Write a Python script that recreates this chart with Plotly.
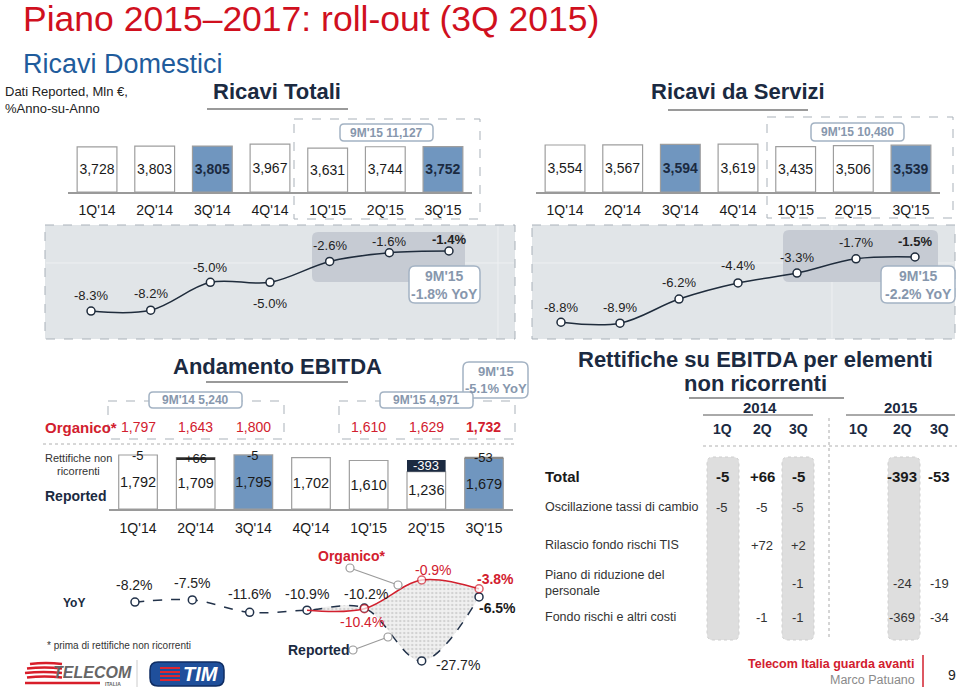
import plotly.graph_objects as go

# ---------------- DATA ----------------
quarters = ["1Q'14", "2Q'14", "3Q'14", "4Q'14", "1Q'15", "2Q'15", "3Q'15"]
ricavi_totali = [3728, 3803, 3805, 3967, 3631, 3744, 3752]
ricavi_servizi = [3554, 3567, 3594, 3619, 3435, 3506, 3539]
yoy_totali = [-8.3, -8.2, -5.0, -5.0, -2.6, -1.6, -1.4]
yoy_servizi = [-8.8, -8.9, -6.2, -4.4, -3.3, -1.7, -1.5]
ebitda_reported = [1792, 1709, 1795, 1702, 1610, 1236, 1679]
ebitda_organico = [1797, 1643, 1800, None, 1610, 1629, 1732]
rettifiche_labels = ["-5", "+66", "-5", None, None, "-393", "-53"]
yoy_ebitda_reported = [-8.2, -7.5, -11.6, -10.9, -10.2, -27.7, -6.5]
yoy_ebitda_organico = [None, None, None, -10.9, -10.4, -0.9, -3.8]
highlight = [False, False, True, False, False, False, True]

tot_9m = "9M'15 11,127"
serv_9m = "9M'15 10,480"
tot_yoy_9m = "9M'15<br>-1.8% YoY"
serv_yoy_9m = "9M'15<br>-2.2% YoY"
ebitda_9m14 = "9M'14 5,240"
ebitda_9m15 = "9M'15 4,971"
ebitda_yoy_9m = "9M'15<br>-5.1% YoY"

table_years = ["2014", "2015"]
table_cols = ["1Q", "2Q", "3Q", "1Q", "2Q", "3Q"]
table_rows = ["Total", "Oscillazione tassi di cambio", "Rilascio fondo rischi TIS",
              "Piano di riduzione del<br>personale", "Fondo rischi e altri costi"]
table_values = [
    ["-5", "+66", "-5", "", "-393", "-53"],
    ["-5", "-5", "-5", "", "", ""],
    ["", "+72", "+2", "", "", ""],
    ["", "", "-1", "", "-24", "-19"],
    ["", "-1", "-1", "", "-369", "-34"],
]

# ---------------- STYLE ----------------
W, H = 960, 687
FONT = "Liberation Sans, Arial, sans-serif"
NAVY = "#1b2a41"
RED = "#d2202e"
TITLE_RED = "#d0101e"
BLUE_BAR = "#7096bf"
BAR_EDGE = "#9e9e9e"
PANEL = "#e1e5e8"
PANEL_DARK = "#c6cbd3"
BOX_TXT = "#8797ad"
BOX_EDGE = "#a3b2c3"
DASH = "#a9b1b9"


def X(v):
    return v / W


def Y(v):
    return 1 - v / H


annotations = []
shapes = []


def txt(x, y, s, size=13, color="#222", bold=False, xa="center", ya="middle", italic=False):
    if bold:
        s = "<b>" + s + "</b>"
    if italic:
        s = "<i>" + s + "</i>"
    annotations.append(dict(x=X(x), y=Y(y), xref="paper", yref="paper", text=s, showarrow=False,
                            font=dict(size=size, color=color, family=FONT), xanchor=xa, yanchor=ya,
                            align=xa if xa in ("left", "right") else "center"))


def line(x0, y0, x1, y1, color="#999", width=1, dash=None, layer="above"):
    d = dict(type="line", xref="paper", yref="paper", x0=X(x0), y0=Y(y0), x1=X(x1), y1=Y(y1),
             line=dict(color=color, width=width), layer=layer)
    if dash:
        d["line"]["dash"] = dash
    shapes.append(d)


def rect(x0, y0, x1, y1, fill="rgba(0,0,0,0)", edge="rgba(0,0,0,0)", width=1, dash=None, layer="below"):
    d = dict(type="rect", xref="paper", yref="paper", x0=X(x0), y0=Y(y0), x1=X(x1), y1=Y(y1),
             fillcolor=fill, line=dict(color=edge, width=width), layer=layer)
    if dash:
        d["line"]["dash"] = dash
    shapes.append(d)


def rrect(x0, y0, x1, y1, r, fill="white", edge=BOX_EDGE, width=1.5, dash=None, layer="above"):
    p = (f"M {X(x0 + r)},{Y(y0)} L {X(x1 - r)},{Y(y0)} Q {X(x1)},{Y(y0)} {X(x1)},{Y(y0 + r)} "
         f"L {X(x1)},{Y(y1 - r)} Q {X(x1)},{Y(y1)} {X(x1 - r)},{Y(y1)} "
         f"L {X(x0 + r)},{Y(y1)} Q {X(x0)},{Y(y1)} {X(x0)},{Y(y1 - r)} "
         f"L {X(x0)},{Y(y0 + r)} Q {X(x0)},{Y(y0)} {X(x0 + r)},{Y(y0)} Z")
    d = dict(type="path", xref="paper", yref="paper", path=p, fillcolor=fill,
             line=dict(color=edge, width=width), layer=layer)
    if dash:
        d["line"]["dash"] = dash
    shapes.append(d)


def circle(cx, cy, r, edge="#9a9a9a", fill="white"):
    shapes.append(dict(type="circle", xref="paper", yref="paper", x0=X(cx - r), y0=Y(cy - r),
                       x1=X(cx + r), y1=Y(cy + r), fillcolor=fill, line=dict(color=edge, width=1.2),
                       layer="above"))


fig = go.Figure()

# ---------------- Ricavi bars ----------------
def add_bars(values, xa, ya):
    colors = [BLUE_BAR if h else "white" for h in highlight]
    texts = [("<b>%s</b>" % f"{v:,}") if h else f"{v:,}" for v, h in zip(values, highlight)]
    tcols = [NAVY if h else "#1a1a1a" for h in highlight]
    fig.add_trace(go.Bar(x=quarters, y=values, xaxis=xa, yaxis=ya, width=0.69,
                         marker=dict(color=colors, line=dict(color=BAR_EDGE, width=1.2)),
                         text=texts, textposition="inside", insidetextanchor="middle",
                         textangle=0, constraintext="none", cliponaxis=False,
                         textfont=dict(size=14, color=tcols, family=FONT), hoverinfo="skip"))


add_bars(ricavi_totali, "x", "y")
add_bars(ricavi_servizi, "x2", "y2")

# ---------------- Ricavi YoY lines ----------------
def add_yoy(values, xa, ya):
    fig.add_trace(go.Scatter(x=quarters, y=values, xaxis=xa, yaxis=ya, mode="lines+markers",
                             line=dict(color="#1f2c3c", width=1.5, shape="spline"),
                             marker=dict(size=8, color="white", line=dict(color="#1f2c3c", width=1.5)),
                             cliponaxis=False, hoverinfo="skip"))


add_yoy(yoy_totali, "x3", "y3")
add_yoy(yoy_servizi, "x4", "y4")

tot_dy = [16, 17, 15, -21, 16, 11, 12]
serv_dy = [15, 16, 17, 17, 16, 16, 16]
for i, (q, v) in enumerate(zip(quarters, yoy_totali)):
    s = f"{v:.1f}%"
    if i == 6:
        s = "<b>" + s + "</b>"
    annotations.append(dict(x=q, y=v, xref="x3", yref="y3", text=s, showarrow=False, yshift=tot_dy[i],
                            font=dict(size=13, color="#222", family=FONT)))
for i, (q, v) in enumerate(zip(quarters, yoy_servizi)):
    s = f"{v:.1f}%"
    if i == 6:
        s = "<b>" + s + "</b>"
    annotations.append(dict(x=q, y=v, xref="x4", yref="y4", text=s, showarrow=False, yshift=serv_dy[i],
                            font=dict(size=13, color="#222", family=FONT)))

# ---------------- EBITDA bars ----------------
e_colors = [BLUE_BAR if h else "white" for h in highlight]
fig.add_trace(go.Bar(x=quarters, y=ebitda_reported, xaxis="x5", yaxis="y5", width=0.67,
                     marker=dict(color=e_colors, line=dict(color=BAR_EDGE, width=1.2)),
                     text=[f"{v:,}" for v in ebitda_reported], textposition="inside",
                     insidetextanchor="middle", textangle=0, constraintext="none", cliponaxis=False,
                     textfont=dict(size=14.5, color="#1a1a1a", family=FONT), hoverinfo="skip"))

ret_base, ret_h, ret_col = [], [], []
for rep, org, lab in zip(ebitda_reported, ebitda_organico, rettifiche_labels):
    if org is None or lab is None:
        ret_base.append(0)
        ret_h.append(0)
        ret_col.append("rgba(0,0,0,0)")
        continue
    ret_base.append(min(rep, org))
    ret_h.append(abs(org - rep))
    if lab == "+66":
        ret_col.append("#2b2b2b")
    elif lab == "-393":
        ret_col.append(NAVY)
    elif lab == "-53":
        ret_col.append("#8a8a8a")
    else:
        ret_col.append("rgba(0,0,0,0)")
fig.add_trace(go.Bar(x=quarters, y=ret_h, base=ret_base, xaxis="x5", yaxis="y5", width=0.67,
                     marker=dict(color=ret_col, line=dict(width=0)), hoverinfo="skip", cliponaxis=False))

for q, rep, org, lab in zip(quarters, ebitda_reported, ebitda_organico, rettifiche_labels):
    if lab is None:
        continue
    if lab == "-393":
        annotations.append(dict(x=q, y=(rep + org) / 2, xref="x5", yref="y5", text=lab, showarrow=False,
                                font=dict(size=13, color="white", family=FONT)))
    else:
        annotations.append(dict(x=q, y=max(rep, org), xref="x5", yref="y5", text=lab, showarrow=False,
                                yshift=-1, font=dict(size=13, color="#1a1a1a", family=FONT)))

# organic row
for i, (q, v) in enumerate(zip(quarters, ebitda_organico)):
    if v is None:
        continue
    s = f"{v:,}"
    if i == 6:
        s = "<b>" + s + "</b>"
    annotations.append(dict(x=q, y=Y(427), xref="x5", yref="paper", text=s, showarrow=False,
                            font=dict(size=14, color=RED, family=FONT)))

# ---------------- EBITDA YoY ----------------
fig.add_trace(go.Scatter(x=quarters[3:], y=yoy_ebitda_reported[3:], xaxis="x6", yaxis="y6",
                         mode="lines", line=dict(width=0, shape="spline", color="rgba(0,0,0,0)"),
                         hoverinfo="skip"))
fig.add_trace(go.Scatter(x=quarters[3:], y=yoy_ebitda_organico[3:], xaxis="x6", yaxis="y6",
                         mode="lines", line=dict(width=0, shape="spline", color="rgba(0,0,0,0)"),
                         fill="tonexty", fillcolor="rgba(220,220,220,0.5)",
                         fillpattern=dict(shape=".", fgcolor="#b4b4b4", bgcolor="#f0f0f0", size=4,
                                          solidity=0.3),
                         hoverinfo="skip"))
fig.add_trace(go.Scatter(x=quarters, y=yoy_ebitda_reported, xaxis="x6", yaxis="y6", mode="lines+markers",
                         line=dict(color="#22324a", width=1.5, dash="dash", shape="spline"),
                         marker=dict(size=8, color="white", line=dict(color="#22324a", width=1.5)),
                         cliponaxis=False, hoverinfo="skip"))
fig.add_trace(go.Scatter(x=quarters[3:], y=yoy_ebitda_organico[3:], xaxis="x6", yaxis="y6",
                         mode="lines+markers",
                         line=dict(color=RED, width=1.5, shape="spline"),
                         marker=dict(size=[0, 8, 8, 8], color="white", line=dict(color=RED, width=1.5)),
                         cliponaxis=False, hoverinfo="skip"))

e_lab = [
    (yoy_ebitda_reported, 0, 0, 17, "#222", False),
    (yoy_ebitda_reported, 1, 0, 17, "#222", False),
    (yoy_ebitda_reported, 2, 0, 18, "#222", False),
    (yoy_ebitda_reported, 3, 0, 16, "#222", False),
    (yoy_ebitda_reported, 4, 2, 14, "#222", False),
    (yoy_ebitda_organico, 4, -2, -13, RED, False),
    (yoy_ebitda_organico, 5, 12, 10, RED, False),
    (yoy_ebitda_organico, 6, 16, 10, RED, True),
    (yoy_ebitda_reported, 6, 18, -11, "#1a1a1a", True),
    (yoy_ebitda_reported, 5, 36, -4, "#222", False),
]
for ser, i, dx, dy, col, b in e_lab:
    s = f"{ser[i]:.1f}%"
    if b:
        s = "<b>" + s + "</b>"
    annotations.append(dict(x=quarters[i], y=ser[i], xref="x6", yref="y6", text=s, showarrow=False,
                            xshift=dx, yshift=dy, font=dict(size=14, color=col, family=FONT)))

# ---------------- Axes ----------------
cat_range = [-0.5, 6.5]


def xcat(d0, d1, anchor, show=True, tl=4):
    ax = dict(domain=[X(d0), X(d1)], range=cat_range, anchor=anchor, type="category",
              categoryorder="array", categoryarray=quarters, fixedrange=True, showgrid=False,
              zeroline=False)
    if show:
        ax.update(showline=True, linecolor="#9a9a9a", linewidth=1.5, ticks="outside", ticklen=tl,
                  tickcolor="rgba(0,0,0,0)", tickfont=dict(size=14, color="#1a1a1a", family=FONT))
    else:
        ax.update(visible=False)
    return ax


def yax(p_bottom, p_top, rng, anchor):
    return dict(domain=[Y(p_bottom), Y(p_top)], range=rng, anchor=anchor, visible=False,
                fixedrange=True, showgrid=False, zeroline=False)


def lin_range(v_ref, p_ref, ppu, p_bottom, p_top):
    return [v_ref - (p_bottom - p_ref) / ppu, v_ref + (p_ref - p_top) / ppu]


layout_axes = dict(
    xaxis=xcat(68.2, 471.8, "y", tl=4),
    yaxis=yax(192, 120, [0, 5960], "x"),
    xaxis2=xcat(536.2, 939.8, "y2", tl=4),
    yaxis2=yax(192, 120, [0, 5443], "x2"),
    xaxis3=xcat(61.2, 478.8, "y3", show=False),
    yaxis3=yax(339, 225, lin_range(-1.4, 251, 8.7, 339, 225), "x3"),
    xaxis4=xcat(531.5, 944.5, "y4", show=False),
    yaxis4=yax(339, 225, lin_range(-1.5, 257, 8.94, 339, 225), "x4"),
    xaxis5=xcat(109.2, 512.8, "y5", tl=5),
    yaxis5=yax(509, 440, [0, 2290], "x5"),
    xaxis6=xcat(106.3, 507.7, "y6", show=False),
    yaxis6=yax(670, 575, lin_range(-0.9, 580, 3.02, 670, 575), "x6"),
)

# ---------------- Decorations ----------------
txt(21, 19, "Piano 2015–2017: roll-out (3Q 2015)", size=35.5, color=TITLE_RED, xa="left")
txt(21, 64, "Ricavi Domestici", size=27, color="#1f5c9c", xa="left")
txt(3, 91, "Dati Reported, Mln €,", size=13, color="#222", xa="left")
txt(3, 108, "%Anno-su-Anno", size=13, color="#222", xa="left")
txt(277, 92, "Ricavi Totali", size=22, color=NAVY, bold=True)
line(207, 109, 348, 109, color="#9a9a9a", width=2)
txt(738, 92, "Ricavi da Servizi", size=22, color=NAVY, bold=True)
line(668, 110, 808, 110, color="#9a9a9a", width=2)

rect(294, 119, 480, 219, edge=DASH, dash="dash", layer="below")
rrect(340, 124, 433, 141, 4)
txt(386.5, 132.5, tot_9m, size=12, color=BOX_TXT, bold=True)
rect(767, 117, 953, 218, edge=DASH, dash="dash", layer="below")
rrect(811, 123, 904, 141, 4)
txt(857.5, 132, serv_9m, size=12, color=BOX_TXT, bold=True)

rect(45, 225, 515, 339, fill=PANEL, edge=DASH, dash="dash", layer="below")
rect(532, 225, 955, 339, fill=PANEL, edge=DASH, dash="dash", layer="below")
line(46, 263, 514, 263, color="#eef0f2", width=1, layer="below")
line(498, 226, 498, 338, color="#eef0f2", width=1, layer="below")
line(533, 263, 954, 263, color="#eef0f2", width=1, layer="below")
line(832, 226, 832, 338, color="#eef0f2", width=1, layer="below")
rrect(312, 232, 465, 282, 6, fill=PANEL_DARK, edge="rgba(0,0,0,0)", width=0, layer="below")
rrect(783, 230, 938, 282, 6, fill=PANEL_DARK, edge="rgba(0,0,0,0)", width=0, layer="below")
rrect(409, 266, 480, 303, 6)
txt(444.5, 284.5, tot_yoy_9m, size=14, color=BOX_TXT, bold=True)
rrect(881, 266, 955, 303, 6)
txt(918, 284.5, serv_yoy_9m, size=14, color=BOX_TXT, bold=True)

txt(277, 367, "Andamento EBITDA", size=22, color=NAVY, bold=True)
line(206, 382, 348, 382, color="#9a9a9a", width=2)
rrect(463, 362, 528, 398, 6)
txt(495.5, 380, ebitda_yoy_9m, size=13, color=BOX_TXT, bold=True)
rect(108, 401, 284, 439, edge=DASH, dash="dash", layer="below")
rrect(149, 392, 242, 408, 4)
txt(195.5, 400, ebitda_9m14, size=12, color=BOX_TXT, bold=True)
rect(339, 401, 515, 439, edge=DASH, dash="dash", layer="below")
rrect(380, 392, 473, 408, 4)
txt(426.5, 400, ebitda_9m15, size=12, color=BOX_TXT, bold=True)
txt(43, 427, "Organico*", size=15, color=RED, bold=True, xa="left")
line(43, 444, 515, 444, color="#b0b0b0", width=1, dash="dot")
txt(78, 458, "Rettifiche non", size=11, color="#333")
txt(78, 471, "ricorrenti", size=11, color="#333")
txt(75, 496, "Reported", size=14, color=NAVY, bold=True)
txt(74, 603, "YoY", size=12, color=NAVY, bold=True)

txt(351, 556, "Organico*", size=14, color=RED, bold=True)
line(350, 568, 398, 585, color="#9a9a9a", width=1.2)
circle(350, 568, 4)
circle(398, 585, 4)
txt(318, 650, "Reported", size=14, color=NAVY, bold=True)
line(353, 650, 388, 637, color="#9a9a9a", width=1.2)
circle(353, 650, 4)
circle(388, 637, 4)

txt(45, 645, "* prima di rettifiche non ricorrenti", size=10, color="#333", xa="left")

# logos
for k, (xa0, xa1) in enumerate([(30, 62), (27, 62), (25, 62), (27, 62)]):
    yy = 664 + k * 4.5
    shapes.append(dict(type="path", xref="paper", yref="paper",
                       path=f"M {X(xa0)},{Y(yy)} Q {X((xa0 + xa1) / 2)},{Y(yy - 2)} {X(xa1)},{Y(yy)}",
                       line=dict(color="#d81e2a", width=2.5), layer="above"))
line(25, 683, 100, 683, color="#d81e2a", width=2.5)
txt(92, 672, "TELECOM", size=16, color="#666666", bold=True, italic=True)
txt(113, 683.5, "ITALIA", size=5, color="#666666", bold=True)
line(137, 660, 137, 687, color="#cccccc", width=1)
rrect(150, 662, 224, 686, 8, fill="#1f4f9b", edge="#0f2d63", width=1.5)
for k in range(4):
    line(160, 668 + k * 4, 180, 668 + k * 4, color="#e0262f", width=2)
txt(201, 674, "TIM", size=20, color="white", bold=True, italic=True)

# right table
txt(755, 359, "Rettifiche su EBITDA per elementi", size=22, color=NAVY, bold=True)
txt(755, 383, "non ricorrenti", size=22, color=NAVY, bold=True)
line(689, 398, 844, 398, color="#9a9a9a", width=2)
txt(760, 407, table_years[0], size=15, color=NAVY, bold=True)
line(703, 415, 813, 415, color="#555", width=1)
txt(900, 407, table_years[1], size=15, color=NAVY, bold=True)
line(846, 415, 955, 415, color="#555", width=1)

col_x = [722, 762, 798, 858, 902, 939]
for cx0 in (723, 798, 904):
    rrect(cx0 - 16, 457, cx0 + 16, 640, 6, fill="#dedede", edge="#cfcfcf", width=1, dash="dot", layer="below")
line(829, 418, 829, 640, color="#aaaaaa", width=1, dash="dot", layer="below")
for cx, c in zip(col_x, table_cols):
    txt(cx, 429, c, size=14, color=NAVY, bold=True)
line(703, 446, 957, 446, color="#b0b0b0", width=1, dash="dot")

row_y = [476, 507, 545, 583, 617]
for r, (lab, vals) in enumerate(zip(table_rows, table_values)):
    is_total = r == 0
    txt(543, row_y[r], lab, size=15 if is_total else 12.5, color="#1a1a1a" if is_total else "#333",
        bold=is_total, xa="left")
    for cx, v in zip(col_x, vals):
        if v:
            txt(cx, row_y[r], v, size=15 if is_total else 13, color="#1a1a1a" if is_total else "#333",
                bold=is_total)

txt(917, 664, "Telecom Italia guarda avanti", size=12.5, color=RED, bold=True, xa="right")
txt(917, 680, "Marco Patuano", size=12.5, color="#8a8a8a", xa="right")
line(923, 655, 923, 687, color=RED, width=1.5)
txt(952, 675, "9", size=14, color="#222")

fig.update_layout(
    width=W, height=H, autosize=False,
    margin=dict(l=0, r=0, t=0, b=0, pad=0),
    paper_bgcolor="white", plot_bgcolor="rgba(0,0,0,0)",
    showlegend=False, barmode="overlay",
    annotations=annotations, shapes=shapes,
    font=dict(family=FONT),
    **layout_axes,
)

fig.write_html("out.html", config={"displayModeBar": False},
               post_script="document.body.style.margin='0';document.body.style.overflow='hidden';")
